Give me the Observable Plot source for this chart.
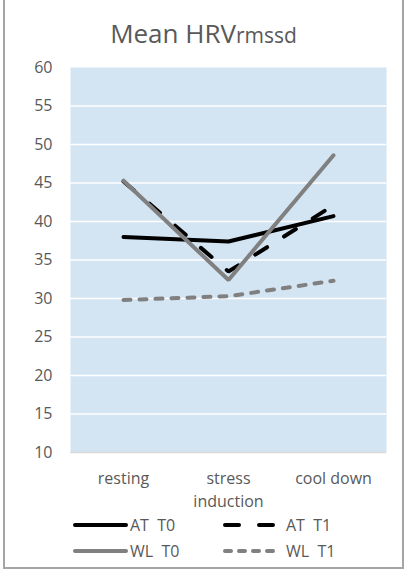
<!DOCTYPE html>
<html>
<head>
<meta charset="utf-8">
<script src="https://cdn.jsdelivr.net/npm/d3@7"></script>
<script src="https://cdn.jsdelivr.net/npm/@observablehq/plot@0.6"></script>
<style>
  html, body { margin: 0; padding: 0; background: #fff; }
  #wrap { position: relative; width: 407px; height: 572px; overflow: hidden; font-family: "Open Sans", sans-serif; color: #595959; }
  #frame { position: absolute; left: 3px; top: -2px; width: 397px; height: 567px; border: 2px solid #a5a5a5; }
  #title { position: absolute; left: 0; top: 13px; width: 407px; text-align: center; font-size: 26px; line-height: 40px; white-space: nowrap; }
  #title .sub { font-size: 21px; }
  #chart { position: absolute; left: 0; top: 50px; }
  .leg { position: absolute; font-size: 16px; line-height: 20px; white-space: nowrap; display: flex; align-items: center; }
  .leg svg { display: block; }
</style>
</head>
<body>
<div id="wrap">
  <div id="frame"></div>
  <div id="title">Mean HRV<span class="sub">rmssd</span></div>
  <div id="chart"></div>
  <div id="legend"></div>
</div>
<script>
// ---- data ----
const categories = ["resting", "stress\ninduction", "cool down"];
const seriesNames = ["AT  T0", "AT  T1", "WL  T0", "WL  T1"];
const atT0 = [38.0, 37.4, 40.7];
const atT1 = [45.2, 33.5, 42.1];
const wlT0 = [45.3, 32.4, 48.6];
const wlT1 = [29.8, 30.3, 32.3];
const yTicks = [10, 15, 20, 25, 30, 35, 40, 45, 50, 55, 60];

const seriesValues = [atT0, atT1, wlT0, wlT1];
const styles = [
  {stroke: "#000000", dash: null},
  {stroke: "#000000", dash: "14,20"},
  {stroke: "#808080", dash: null},
  {stroke: "#808080", dash: "7,9"}
];

const rows = [];
seriesNames.forEach((s, i) => {
  categories.forEach((c, j) => rows.push({series: s, cat: c, value: seriesValues[i][j]}));
});

const lineMarks = seriesNames.map((s, i) => Plot.line(rows.filter(d => d.series === s), {
  x: "cat", y: "value",
  stroke: styles[i].stroke,
  strokeWidth: 4,
  strokeDasharray: styles[i].dash,
  strokeLinecap: "round",
  strokeLinejoin: "miter"
}));

const chart = Plot.plot({
  width: 407,
  height: 470,
  marginTop: 17,
  marginBottom: 68,
  marginLeft: 70,
  marginRight: 21,
  style: {fontFamily: "'Open Sans', sans-serif", fontSize: "16px", color: "#595959", background: "transparent", overflow: "visible"},
  x: {type: "point", domain: categories, padding: 0.5, label: null},
  y: {domain: [10, 60], label: null},
  marks: [
    Plot.frame({fill: "#d3e4f3", stroke: null}),
    Plot.gridY(yTicks.filter(t => t > 10 && t < 60), {stroke: "#ffffff", strokeOpacity: 1, strokeWidth: 1.5}),
    Plot.ruleY([10], {stroke: "#d9d9d9", strokeWidth: 1.5}),
    Plot.axisY(yTicks, {tickSize: 0, tickPadding: 18, fontSize: 16, fill: "#595959", label: null}),
    Plot.axisX({tickSize: 0, tickPadding: 15, fontSize: 16, fill: "#595959", lineHeight: 1.45, label: null}),
    ...lineMarks
  ]
});
document.getElementById("chart").appendChild(chart);

// ---- legend ----
const legendPos = [
  {left: 71, top: 515, w: 59},
  {left: 221, top: 515, w: 65},
  {left: 71, top: 541, w: 59},
  {left: 221, top: 541, w: 65}
];
const legendDash = [null, "14,20", null, "6,8"];
const legendLineLen = [55, 52, 55, 52];
const legend = document.getElementById("legend");
seriesNames.forEach((s, i) => {
  const div = document.createElement("div");
  div.className = "leg";
  div.style.left = legendPos[i].left + "px";
  div.style.top = legendPos[i].top + "px";
  const w = legendPos[i].w;
  const svg = d3.create("svg").attr("width", w).attr("height", 20);
  svg.append("line").attr("x1", 4).attr("x2", 4 + legendLineLen[i] - 4).attr("y1", 10).attr("y2", 10)
    .attr("stroke", styles[i].stroke).attr("stroke-width", 4).attr("stroke-linecap", "round")
    .attr("stroke-dasharray", legendDash[i]);
  div.appendChild(svg.node());
  const span = document.createElement("span");
  span.style.whiteSpace = "pre";
  span.textContent = s;
  div.appendChild(span);
  legend.appendChild(div);
});
</script>
</body>
</html>
